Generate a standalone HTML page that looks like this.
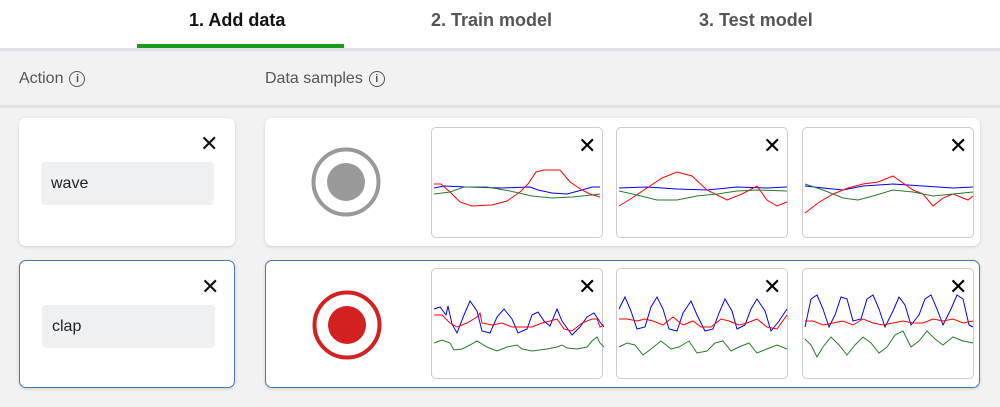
<!DOCTYPE html>
<html><head><style>
body{margin:0;width:1000px;height:407px;background:#f2f2f2;font-family:"Liberation Sans",sans-serif;position:relative;overflow:hidden}
.hdr{position:absolute;left:0;top:0;width:1000px;height:48px;background:#fff;border-bottom:3px solid #e2e2e6}
.tab{position:absolute;top:10px;font-size:18px;font-weight:bold;color:#555}
.ul{position:absolute;left:137px;top:44px;width:207px;height:4px;background:#1a9a1a}
.lbl{position:absolute;top:70px;font-size:16px;color:#555;line-height:18px}
.info{display:inline-block;width:14px;height:14px;border:1.5px solid #555;border-radius:50%;font-size:11px;text-align:center;line-height:14px;vertical-align:top;margin-left:6px;margin-top:1px;font-weight:bold}
.sep{position:absolute;left:0;top:105px;width:1000px;height:3px;background:#e2e2e6}
.card{position:absolute;background:#fff;border-radius:7px;box-shadow:0 1px 3px rgba(0,0,0,.15);box-sizing:border-box}
.sel{border:1px solid #4a7ab5}
.x{position:absolute;font-size:22px;color:#111;line-height:1}
.inp{position:absolute;left:22px;top:44px;width:173px;height:43px;background:#eff0f2;border-radius:4px;font-size:16px;line-height:43px;padding-left:10px;box-sizing:border-box;color:#222}
.mini{position:absolute;width:172px;height:111px;border:1px solid #ccc;border-radius:5px;background:#fff;box-sizing:border-box}
.mini svg{position:absolute;left:0;top:0}
</style></head><body>
<div class="hdr"></div>
<div class="tab" style="left:189px;color:#111">1. Add data</div>
<div class="tab" style="left:431px">2. Train model</div>
<div class="tab" style="left:699px">3. Test model</div>
<div class="ul"></div>
<div class="lbl" style="left:19px">Action<span class="info">i</span></div>
<div class="lbl" style="left:265px">Data samples<span class="info">i</span></div>
<div class="sep"></div>

<div class="card" style="left:19px;top:118px;width:216px;height:128px"><div class="x" style="left:181px;top:15px">✕</div><div class="inp">wave</div></div>
<div class="card sel" style="left:19px;top:260px;width:216px;height:128px"><div class="x" style="left:181px;top:15px">✕</div><div class="inp" style="top:44px">clap</div></div>

<div class="card" style="left:265px;top:118px;width:715px;height:128px">
<svg style="position:absolute;left:45px;top:29px" width="72" height="72"><circle cx="36" cy="35" r="32.5" fill="none" stroke="#999" stroke-width="4"/><circle cx="36" cy="35" r="19" fill="#999"/></svg>
</div>
<div class="card sel" style="left:265px;top:260px;width:715px;height:128px">
<svg style="position:absolute;left:45px;top:29px" width="72" height="72"><circle cx="36" cy="35" r="32.5" fill="none" stroke="#d42020" stroke-width="4"/><circle cx="36" cy="35" r="19" fill="#d42020"/></svg>
</div>

<div class="mini" style="left:431px;top:127px"><svg width="172" height="111"><polyline fill="none" stroke="#00f" stroke-width="1" points="2,60 12,58 35,59 70,60 98,59 106,62 120,65 135,66 150,62 160,59 168,59"/><polyline fill="none" stroke="#f00" stroke-width="1" points="2,56 9,56 18,64 28,74 40,78 60,77 75,73 88,64 96,56 104,44 112,42 128,42 138,54 150,62 158,66 168,69"/><polyline fill="none" stroke="#2a7a2a" stroke-width="1" points="2,66 18,64 32,59 55,59 78,63 100,68 120,70 140,69 160,67 168,66"/><text x="146" y="25" font-size="22" font-family="Liberation Sans">✕</text></svg></div>
<div class="mini" style="left:616px;top:127px"><svg width="172" height="111"><polyline fill="none" stroke="#00f" stroke-width="1" points="2,60 30,59 60,61 90,62 120,59 150,60 170,59"/><polyline fill="none" stroke="#f00" stroke-width="1" points="2,78 15,70 30,60 45,50 60,44 75,48 90,62 110,72 125,66 140,58 150,72 160,78 170,74"/><polyline fill="none" stroke="#2a7a2a" stroke-width="1" points="2,63 20,67 40,72 60,72 80,68 100,66 120,63 140,62 170,63"/><text x="146" y="25" font-size="22" font-family="Liberation Sans">✕</text></svg></div>
<div class="mini" style="left:802px;top:127px"><svg width="172" height="111"><polyline fill="none" stroke="#00f" stroke-width="1" points="2,58 20,60 40,62 60,58 90,56 120,58 150,60 170,59"/><polyline fill="none" stroke="#f00" stroke-width="1" points="2,85 15,75 30,66 45,60 60,56 75,54 90,48 100,55 110,62 120,66 130,78 140,70 150,66 165,72 170,68"/><polyline fill="none" stroke="#2a7a2a" stroke-width="1" points="2,56 20,62 40,70 55,72 70,68 90,62 110,64 130,68 150,66 170,64"/><text x="146" y="25" font-size="22" font-family="Liberation Sans">✕</text></svg></div>

<div class="mini" style="left:431px;top:268px"><svg width="172" height="111"><polyline fill="none" stroke="#00f" stroke-width="1" points="2,40 8,38 14,46 16,37 20,55 25,64 32,46 38,32 45,42 50,62 58,64 65,48 72,40 80,50 86,64 95,60 100,46 106,43 112,52 118,57 125,40 130,52 140,66 148,58 155,48 162,44 168,53 172,58"/><polyline fill="none" stroke="#f00" stroke-width="1" points="2,46 10,46 18,54 25,58 35,54 45,48 48,44 50,54 60,56 70,54 80,58 100,58 110,54 118,52 125,50 132,60 140,62 150,54 160,50 165,50 168,58 172,56"/><polyline fill="none" stroke="#2a7a2a" stroke-width="1" points="2,74 10,71 18,74 22,81 30,80 38,76 45,72 55,78 65,82 75,78 85,76 90,80 100,82 115,80 125,78 130,76 135,79 145,80 155,78 160,72 165,68 168,74 172,78"/><text x="146" y="25" font-size="22" font-family="Liberation Sans">✕</text></svg></div>
<div class="mini" style="left:616px;top:268px"><svg width="172" height="111"><polyline fill="none" stroke="#00f" stroke-width="1" points="2,40 8,28 14,42 20,60 28,58 34,38 40,28 46,40 52,60 60,62 66,44 74,32 80,46 88,62 96,60 102,44 108,30 115,42 120,60 128,56 134,40 140,30 148,42 154,62 162,52 170,40"/><polyline fill="none" stroke="#f00" stroke-width="1" points="2,50 10,50 20,52 28,50 36,52 46,56 56,48 66,56 76,52 84,58 94,58 104,50 112,52 122,56 130,54 140,50 150,58 160,60 170,46"/><polyline fill="none" stroke="#2a7a2a" stroke-width="1" points="2,78 10,74 18,76 26,86 34,80 44,72 54,80 62,78 72,72 80,84 90,82 98,74 106,72 114,82 122,78 132,74 140,84 150,80 160,76 170,80"/><text x="146" y="25" font-size="22" font-family="Liberation Sans">✕</text></svg></div>
<div class="mini" style="left:802px;top:268px"><svg width="172" height="111"><polyline fill="none" stroke="#00f" stroke-width="1" points="2,58 8,30 14,26 20,40 26,58 32,46 38,28 44,30 50,52 58,50 64,30 70,26 76,40 82,58 90,42 96,28 102,36 108,56 116,46 122,30 128,26 134,40 140,56 148,40 154,26 160,30 166,56 170,58"/><polyline fill="none" stroke="#f00" stroke-width="1" points="2,52 10,52 20,56 30,54 40,52 50,56 60,50 70,54 80,56 90,54 100,52 110,54 120,54 130,50 140,52 150,50 160,54 170,52"/><polyline fill="none" stroke="#2a7a2a" stroke-width="1" points="2,70 8,76 14,88 20,78 28,68 36,76 44,86 52,76 60,68 68,74 76,84 84,78 92,66 100,62 108,78 116,72 124,62 132,70 140,76 150,68 160,72 170,74"/><text x="146" y="25" font-size="22" font-family="Liberation Sans">✕</text></svg></div>
</body></html>
